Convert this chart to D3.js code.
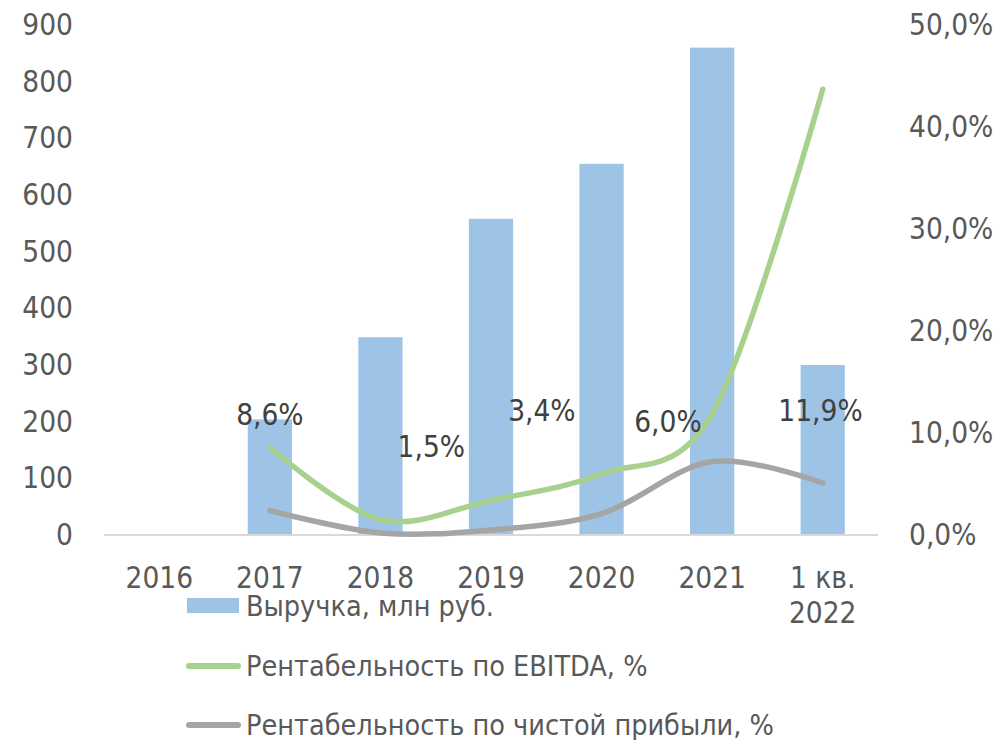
<!DOCTYPE html>
<html>
<head>
<meta charset="utf-8">
<script src="https://cdn.jsdelivr.net/npm/d3@7"></script>
<style>
  body { margin: 0; background: #fff; }
  svg text { font-family: "DejaVu Sans Condensed", "DejaVu Sans", sans-serif; font-stretch: condensed; }
</style>
</head>
<body>
<div id="chart"></div>
<script>
// chart data
var categories = ["2016", "2017", "2018", "2019", "2020", "2021", "1 кв. 2022"];
var revenue = [null, 204, 349, 558, 655, 860, 300];          // млн руб.
var ebitdaMargin = [null, 8.6, 1.5, 3.4, 6.0, 11.9, 43.7];   // %
var netMargin = [null, 2.4, 0.2, 0.5, 2.1, 7.2, 5.1];        // %
var leftTicks = [0, 100, 200, 300, 400, 500, 600, 700, 800, 900];
var rightTicks = [0, 10, 20, 30, 40, 50];
// data labels as shown (placed by hand in the original): category index, level in %
var labelText = ["8,6%", "1,5%", "3,4%", "6,0%", "11,9%"];
var labelIndex = [1.0, 2.46, 3.46, 4.6, 5.98];
var labelLevel = [11.8, 8.7, 12.2, 11.1, 12.2];
var legendNames = ["Выручка, млн руб.", "Рентабельность по EBITDA, %", "Рентабельность по чистой прибыли, %"];

var W = 1007, H = 740;
var plot = { left: 104, right: 878, top: 25, bottom: 535 };
var fontSize = 29.5;
var legendFont = 28.5;

var svg = d3.select("#chart").append("svg")
    .attr("width", W)
    .attr("height", H);

var x = d3.scaleBand()
    .domain(categories)
    .range([plot.left, plot.right])
    .paddingInner(0.6)
    .paddingOuter(0.3);

// continuous position by category index (for hand-placed labels)
var xi = d3.scaleLinear()
    .domain([0, categories.length - 1])
    .range([x(categories[0]) + x.bandwidth() / 2, x(categories[categories.length - 1]) + x.bandwidth() / 2]);

var yL = d3.scaleLinear().domain([0, 900]).range([plot.bottom, plot.top]);
var yR = d3.scaleLinear().domain([0, 50]).range([plot.bottom, plot.top]);

var ruLocale = d3.formatLocale({ decimal: ",", thousands: " ", grouping: [3], currency: ["", " ₽"] });
var pct = ruLocale.format(".1f");

// bars
svg.selectAll(".bar")
    .data(categories.map(function(c, i) { return { c: c, v: revenue[i] }; }).filter(function(d) { return d.v != null; }))
    .enter().append("rect")
        .attr("class", "bar")
        .attr("x", function(d) { return x(d.c); })
        .attr("width", x.bandwidth())
        .attr("y", function(d) { return yL(d.v); })
        .attr("height", function(d) { return yL(0) - yL(d.v); })
        .attr("fill", "#9DC3E6");

// x axis line
svg.append("line")
    .attr("x1", plot.left).attr("x2", plot.right)
    .attr("y1", yL(0)).attr("y2", yL(0))
    .attr("stroke", "#D9D9D9")
    .attr("stroke-width", 2);

// lines
var line = function(values) {
    return d3.line()
        .defined(function(d) { return d != null; })
        .x(function(d, i) { return x(categories[i]) + x.bandwidth() / 2; })
        .y(function(d) { return yR(d); })
        .curve(d3.curveCatmullRom.alpha(0))(values);
};

svg.append("path")
    .attr("d", line(netMargin))
    .attr("fill", "none")
    .attr("stroke", "#A5A5A5")
    .attr("stroke-width", 5.5)
    .attr("stroke-linecap", "round");

svg.append("path")
    .attr("d", line(ebitdaMargin))
    .attr("fill", "none")
    .attr("stroke", "#A9D18E")
    .attr("stroke-width", 5.5)
    .attr("stroke-linecap", "round");

// left axis
var leftAxis = svg.append("g")
    .attr("transform", "translate(73,0)")
    .call(d3.axisLeft(yL).tickValues(leftTicks).tickSize(0).tickPadding(0));
leftAxis.select(".domain").remove();

// right axis
var rightAxis = svg.append("g")
    .attr("transform", "translate(909,0)")
    .call(d3.axisRight(yR).tickValues(rightTicks).tickSize(0).tickPadding(0)
        .tickFormat(function(d) { return pct(d) + "%"; }));
rightAxis.select(".domain").remove();

// category labels
var bottomAxis = svg.append("g")
    .attr("transform", "translate(0," + yL(0) + ")")
    .call(d3.axisBottom(x).tickSize(0).tickPadding(0).tickFormat(""));
bottomAxis.select(".domain").remove();
bottomAxis.selectAll(".tick").each(function(c) {
    var parts = c.indexOf("кв.") >= 0 ? ["1 кв.", c.replace("1 кв. ", "")] : [c];
    var t = d3.select(this).append("text")
        .attr("fill", "#595959")
        .attr("text-anchor", "middle");
    parts.forEach(function(p, k) {
        t.append("tspan").attr("x", 0).attr("y", 53 + k * 35).text(p);
    });
});

svg.selectAll(".tick text")
    .attr("fill", "#595959")
    .style("font-size", fontSize + "px");

// data labels
svg.selectAll(".dlabel")
    .data(labelText)
    .enter().append("text")
        .attr("class", "dlabel")
        .attr("x", function(d, i) { return xi(labelIndex[i]); })
        .attr("y", function(d, i) { return yR(labelLevel[i]); })
        .attr("dy", "0.36em")
        .attr("text-anchor", "middle")
        .attr("fill", "#404040")
        .style("font-size", fontSize + "px")
        .text(function(d) { return d; });

// legend
var legend = svg.append("g").attr("transform", "translate(187,0)");
var legendY = [606, 666, 725];

legend.append("rect")
    .attr("x", 0).attr("y", legendY[0] - 8)
    .attr("width", 52).attr("height", 15)
    .attr("fill", "#9DC3E6");

[["#A9D18E", legendY[1]], ["#A5A5A5", legendY[2]]].forEach(function(s) {
    legend.append("line")
        .attr("x1", 2).attr("x2", 51)
        .attr("y1", s[1]).attr("y2", s[1])
        .attr("stroke", s[0])
        .attr("stroke-width", 6)
        .attr("stroke-linecap", "round");
});

legend.selectAll(".ltext")
    .data(legendNames)
    .enter().append("text")
        .attr("class", "ltext")
        .attr("x", 59)
        .attr("y", function(d, i) { return legendY[i]; })
        .attr("dy", "0.36em")
        .attr("fill", "#595959")
        .style("font-size", legendFont + "px")
        .text(function(d) { return d; });
</script>
</body>
</html>
